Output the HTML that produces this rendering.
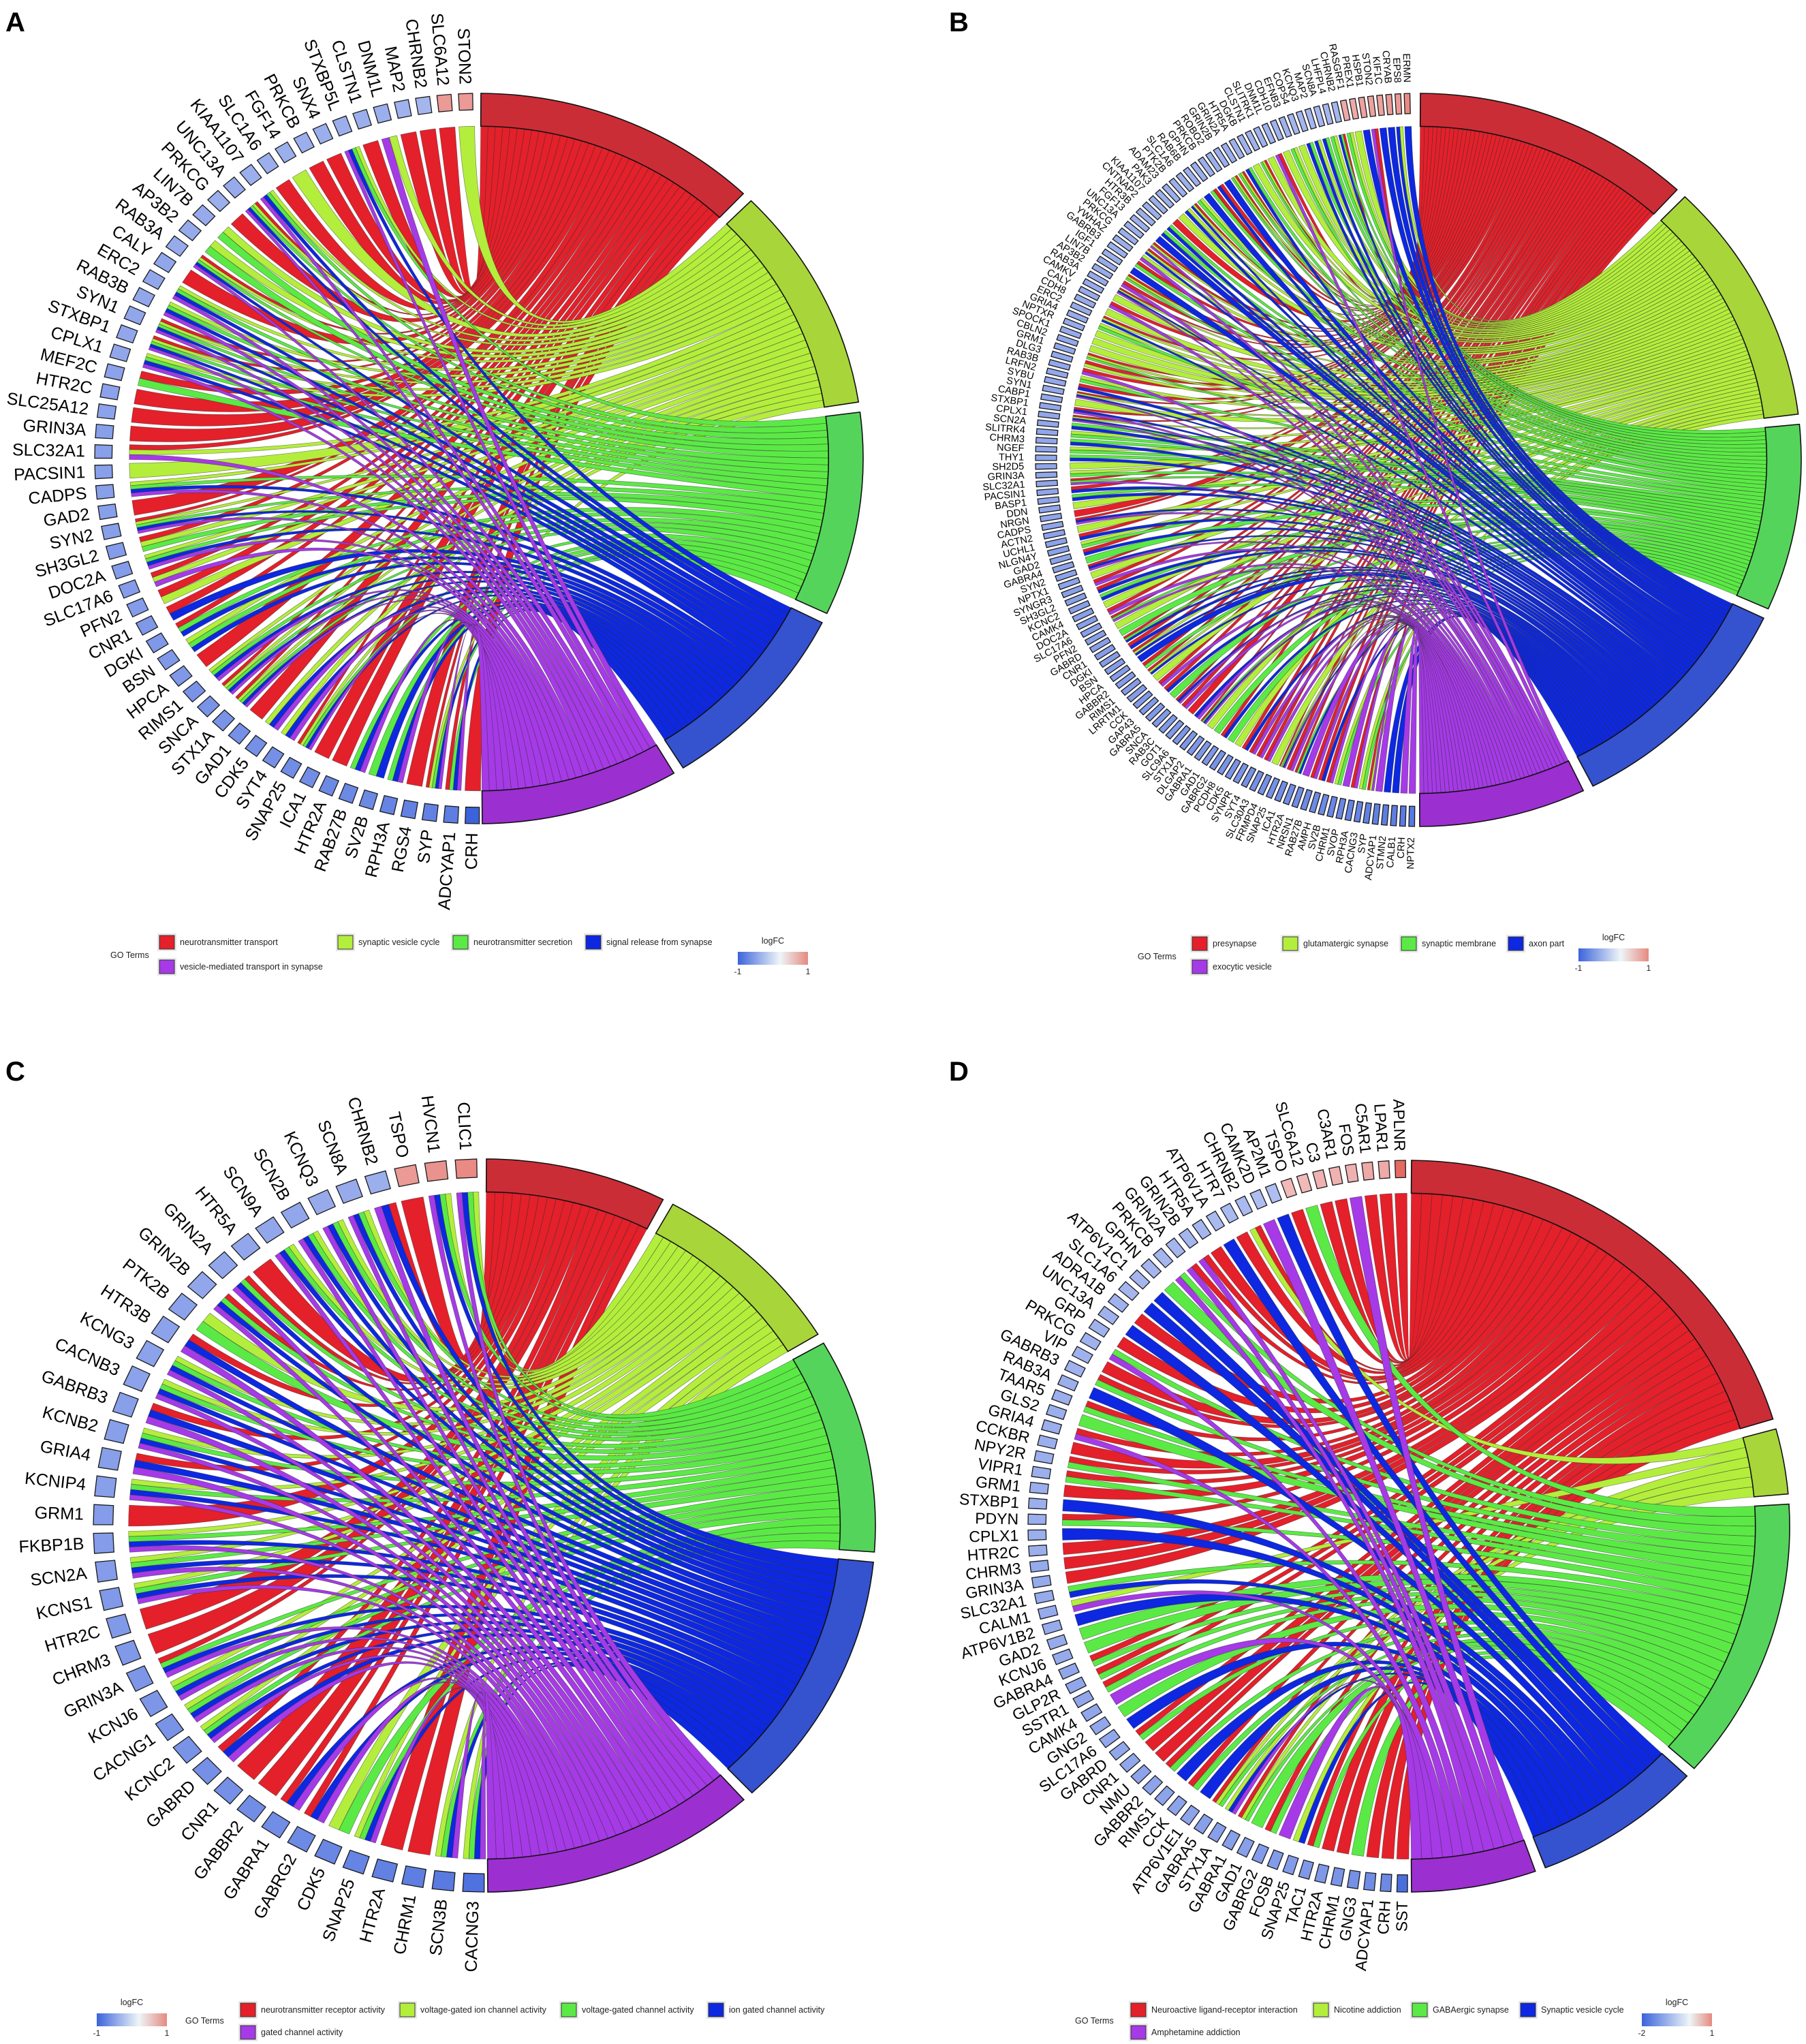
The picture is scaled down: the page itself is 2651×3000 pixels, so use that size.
<!DOCTYPE html>
<html><head><meta charset="utf-8"><style>
html,body{margin:0;padding:0;background:#fff;width:2651px;height:3000px;overflow:hidden}
svg{position:absolute;left:0;top:0;font-family:"Liberation Sans",Arial,sans-serif}
</style></head><body>
<svg id="fig" width="2651" height="3000" viewBox="0 0 2651 3000" xmlns="http://www.w3.org/2000/svg">
<defs>
<linearGradient id="gradA" x1="0" x2="1" y1="0" y2="0"><stop offset="0" stop-color="#3C63DB"/><stop offset="0.6" stop-color="#EEF6F8"/><stop offset="1" stop-color="#E58A80"/></linearGradient>
<linearGradient id="gradD" x1="0" x2="1" y1="0" y2="0"><stop offset="0" stop-color="#3C63DB"/><stop offset="0.68" stop-color="#EEF6F8"/><stop offset="1" stop-color="#E58A80"/></linearGradient>
</defs>
<g id="layer"></g>
</svg>
<script>
// ---------- DATA ----------
const termsA = ["neurotransmitter transport","synaptic vesicle cycle","neurotransmitter secretion","signal release from synapse","vesicle-mediated transport in synapse"];
const genesA = ["STON2","SLC6A12","CHRNB2","MAP2","DNM1L","CLSTN1","STXBP5L","SNX4","PRKCB","FGF14","SLC1A6","KIAA1107","UNC13A","PRKCG","LIN7B","AP3B2","RAB3A","CALY","ERC2","RAB3B","SYN1","STXBP1","CPLX1","MEF2C","HTR2C","SLC25A12","GRIN3A","SLC32A1","PACSIN1","CADPS","GAD2","SYN2","SH3GL2","DOC2A","SLC17A6","PFN2","CNR1","DGKI","BSN","HPCA","RIMS1","SNCA","STX1A","GAD1","CDK5","SYT4","SNAP25","ICA1","HTR2A","RAB27B","SV2B","RPH3A","RGS4","SYP","ADCYAP1","CRH"];
const memA = ["01000","10000","10000","10000","01001","10000","01111","10000","10000","01000","10000","01111","11111","10000","01100","01100","11111","10000","01111","01111","11111","11111","01111","10100","10000","10000","10000","11001","01000","01111","10000","11111","11100","01111","11001","11000","10010","10110","01110","10000","01111","11111","11111","10000","01011","01011","11111","10000","10000","00111","00110","00111","10000","11111","10111","10000"];
const fcA = [0.6,0.6,-0.45,-0.48,-0.5,-0.5,-0.5,-0.5,-0.5,-0.5,-0.5,-0.5,-0.52,-0.5,-0.52,-0.52,-0.52,-0.55,-0.55,-0.55,-0.55,-0.55,-0.55,-0.58,-0.58,-0.58,-0.6,-0.6,-0.6,-0.6,-0.6,-0.6,-0.62,-0.62,-0.62,-0.62,-0.65,-0.65,-0.65,-0.65,-0.68,-0.68,-0.68,-0.7,-0.7,-0.7,-0.72,-0.72,-0.75,-0.75,-0.75,-0.78,-0.8,-0.8,-0.82,-1.0];

const termsB = ["presynapse","glutamatergic synapse","synaptic membrane","axon part","exocytic vesicle"];
const genesB = ["ERMN","EPS8","CRYAB","KIF1C","STON2","HSPB1","PREX1","RASGRF1","CHRNB2","LHFPL4","SCN8A","MAP2","KCNQ3","COPS4","EFNB3","CDH10","DNM1L","SLITRK1","CLSTN1","DGKB","HTR5A","GRIN2A","GRIN2B","ROBO2","PRKCB","GPHN","RAB6B","SLC1A6","PTK2B","ADAM23","PAK3","KIAA1107","CNTNAP2","HTR3B","FGF13","UNC13A","PRKCG","YWHAZ","GABRB3","IGF1","LIN7B","AP3B2","RAB3A","CAMKV","CALY","CDH8","ERC2","GRIA4","NPTXR","SPOCK1","CBLN2","GRM1","DLG3","RAB3B","LRFN2","SYBU","SYN1","CABP1","STXBP1","CPLX1","SCN2A","SLITRK4","CHRM3","NGEF","THY1","SH2D5","GRIN3A","SLC32A1","PACSIN1","BASP1","DDN","NRGN","CADPS","ACTN2","UCHL1","NLGN4Y","GAD2","GABRA4","SYN2","NPTX1","SYNGR3","SH3GL2","KCNC2","CAMK4","DOC2A","SLC17A6","PFN2","GABRD","CNR1","DGKI","BSN","HPCA","GABBR2","RIMS1","LRRTM1","CCK","GAP43","GABRA5","SNCA","RAB3C","GOT1","SLC9A6","STX1A","DLGAP2","GABRA1","GAD1","GABRG2","PCDH8","CDK5","SYNPR","SYT4","SLC30A3","FRMPD4","SNAP25","ICA1","HTR2A","NRSN1","RAB27B","AMPH","SV2B","CHRM1","SVOP","RPH3A","CACNG3","SYP","ADCYAP1","STMN2","CALB1","CRH","NPTX2"];
const memB = ["00010","01010","00010","00010","10001","00010","01000","01100","10110","01100","00110","01010","00110","01000","01100","01000","10001","01000","11100","01000","00110","11100","11100","00010","10010","10100","00010","01100","11010","01010","01000","10000","00110","00110","00010","11001","11010","01001","10100","00010","11100","10001","11011","01000","10001","01000","11010","01100","01000","01000","01000","11100","11000","10001","01100","10010","11011","01000","10011","11011","00110","01100","00110","01100","00110","01000","01100","10101","10010","00110","01000","10000","10011","01000","10010","01100","10010","00100","10011","01000","10001","10010","00110","01000","10001","10101","01000","00100","10110","10010","11010","00010","10100","11010","01000","10001","10010","00100","10011","10001","10000","00011","10111","01000","00100","10010","00100","01000","10010","10001","10001","10001","01000","11111","10001","10110","00001","10001","10010","10001","01100","00001","10001","01100","11001","00001","00010","00010","00001","00001"];
const fcB = [0.7,0.6,0.6,0.55,0.55,0.55,0.5,0.5,-0.45,-0.45,-0.45,-0.45,-0.45,-0.45,-0.48,-0.48,-0.48,-0.48,-0.48,-0.48,-0.48,-0.5,-0.5,-0.5,-0.5,-0.5,-0.5,-0.5,-0.5,-0.5,-0.5,-0.5,-0.5,-0.5,-0.5,-0.5,-0.5,-0.5,-0.5,-0.5,-0.52,-0.52,-0.52,-0.52,-0.52,-0.52,-0.52,-0.52,-0.52,-0.52,-0.54,-0.54,-0.54,-0.54,-0.54,-0.54,-0.54,-0.54,-0.55,-0.55,-0.55,-0.55,-0.55,-0.55,-0.55,-0.55,-0.55,-0.56,-0.56,-0.56,-0.56,-0.56,-0.56,-0.58,-0.58,-0.58,-0.58,-0.58,-0.58,-0.58,-0.6,-0.6,-0.6,-0.6,-0.6,-0.6,-0.6,-0.6,-0.62,-0.62,-0.62,-0.62,-0.62,-0.62,-0.62,-0.64,-0.64,-0.64,-0.64,-0.64,-0.64,-0.66,-0.66,-0.66,-0.66,-0.66,-0.68,-0.68,-0.68,-0.68,-0.7,-0.7,-0.7,-0.7,-0.72,-0.72,-0.72,-0.74,-0.74,-0.74,-0.76,-0.76,-0.78,-0.78,-0.8,-0.8,-0.82,-0.82,-0.84,-0.86,-0.88,-0.9,-0.92];

const termsC = ["neurotransmitter receptor activity","voltage-gated ion channel activity","voltage-gated channel activity","ion gated channel activity","gated channel activity"];
const genesC = ["CLIC1","HVCN1","TSPO","CHRNB2","SCN8A","KCNQ3","SCN2B","SCN9A","HTR5A","GRIN2A","GRIN2B","PTK2B","HTR3B","KCNG3","CACNB3","GABRB3","KCNB2","GRIA4","KCNIP4","GRM1","FKBP1B","SCN2A","KCNS1","HTR2C","CHRM3","GRIN3A","KCNJ6","CACNG1","KCNC2","GABRD","CNR1","GABBR2","GABRA1","GABRG2","CDK5","SNAP25","HTR2A","CHRM1","SCN3B","CACNG3"];
const memC = ["01111","01111","10000","10011","01111","01111","01111","01111","10000","10111","10111","01100","10011","01111","01111","10011","01111","10011","01111","10000","01111","01111","01111","10000","10000","10111","01111","01111","01111","10011","10000","10000","10011","10011","01100","01111","10000","10000","01111","01111"];
const fcC = [0.7,0.65,0.6,-0.5,-0.52,-0.52,-0.55,-0.55,-0.55,-0.55,-0.55,-0.58,-0.58,-0.58,-0.58,-0.6,-0.6,-0.6,-0.6,-0.62,-0.62,-0.62,-0.64,-0.64,-0.64,-0.66,-0.66,-0.68,-0.68,-0.7,-0.7,-0.72,-0.72,-0.74,-0.76,-0.78,-0.8,-0.82,-0.85,-0.9];

const termsD = ["Neuroactive ligand-receptor interaction","Nicotine addiction","GABAergic synapse","Synaptic vesicle cycle","Amphetamine addiction"];
const genesD = ["APLNR","LPAR1","C5AR1","FOS","C3AR1","C3","SLC6A12","TSPO","AP2M1","CAMK2D","CHRNB2","HTR7","ATP6V1A","HTR5A","GRIN2B","GRIN2A","PRKCB","GPHN","ATP6V1C1","SLC1A6","ADRA1B","UNC13A","GRP","PRKCG","VIP","GABRB3","RAB3A","TAAR5","GLS2","GRIA4","CCKBR","NPY2R","VIPR1","GRM1","STXBP1","PDYN","CPLX1","HTR2C","CHRM3","GRIN3A","SLC32A1","CALM1","ATP6V1B2","GAD2","KCNJ6","GABRA4","GLP2R","SSTR1","CAMK4","GNG2","SLC17A6","GABRD","CNR1","NMU","GABBR2","RIMS1","CCK","ATP6V1E1","GABRA5","STX1A","GABRA1","GAD1","GABRG2","FOSB","SNAP25","TAC1","HTR2A","CHRM1","GNG3","ADCYAP1","CRH","SST"];
const memD = ["10000","10000","10000","00001","10000","10000","00100","10000","00010","00001","11000","10000","00010","10000","10001","10001","00101","00100","00010","00010","10000","00010","10000","00101","10000","10100","00010","10100","00100","10001","10000","10100","10100","10000","00010","10100","00010","10000","10000","10000","00110","01001","00010","00100","00100","10100","10100","10100","00001","00100","00010","10100","10000","10000","10100","00010","10100","00010","11100","01011","11100","00100","10100","00001","01010","10100","10000","10000","00100","10000","10000","10000"];
const fcD = [0.9,0.5,0.5,0.45,0.45,0.45,0.4,0.4,-0.8,-0.8,-0.85,-0.85,-0.85,-0.9,-0.9,-0.9,-0.9,-0.9,-0.9,-0.9,-0.95,-0.95,-0.95,-0.95,-0.95,-0.95,-1.0,-1.0,-1.0,-1.0,-1.0,-1.0,-1.0,-1.0,-1.0,-1.0,-1.0,-1.0,-1.05,-1.05,-1.05,-1.05,-1.05,-1.05,-1.05,-1.1,-1.1,-1.1,-1.1,-1.1,-1.1,-1.1,-1.1,-1.15,-1.15,-1.15,-1.15,-1.15,-1.2,-1.2,-1.2,-1.2,-1.25,-1.25,-1.25,-1.3,-1.3,-1.35,-1.4,-1.45,-1.5,-1.85];

// ---------- STYLE / LAYOUT ----------
const ribbonCol = ["#E4202A","#B4EE3C","#5BEA45","#0D28E0","#A53AE6"];
const bandCol = ["#CB2D37","#A8D53A","#55D45C","#3552CF","#9C2FD0"];
const NS = "http://www.w3.org/2000/svg";
const layer = document.getElementById("layer");

function mk(tag, attrs, parent){
  const e = document.createElementNS(NS, tag);
  for (const k in attrs) e.setAttribute(k, attrs[k]);
  (parent||layer).appendChild(e);
  return e;
}
function pt(p,a,r){const t=a*Math.PI/180;return [p.cx+r*p.rx*Math.sin(t), p.cy-r*p.ry*Math.cos(t)];}
function f(v){return v.toFixed(2);}
function arcTo(p,a,r,sw){const q=pt(p,a,r);return "A"+f(r*p.rx)+" "+f(r*p.ry)+" 0 0 "+sw+" "+f(q[0])+" "+f(q[1]);}
function fcColor(v,min,max){
  if(v<0){const t=Math.min(1,v/min);return "rgb("+Math.round(250-190*t)+","+Math.round(250-151*t)+","+Math.round(255-36*t)+")";}
  const t=Math.min(1,v/max);return "rgb("+Math.round(250-25*t)+","+Math.round(250-160*t)+","+Math.round(255-175*t)+")";
}

function drawChord(p, genes, mem, fc){
  const g = mk("g",{});
  
  
  const nT = 5, R0 = 0.91;
  const counts = [0,0,0,0,0];
  mem.forEach(m=>{for(let k=0;k<nT;k++) if(m[k]==="1") counts[k]++;});
  const total = counts.reduce((a,b)=>a+b,0);
  const gap = 1.6, avail = (p.tEnd-p.tStart) - gap*(nT-1);
  const tA = []; let a = p.tStart;
  for(let k=0;k<nT;k++){const sp = counts[k]/total*avail; tA.push([a,a+sp]); a += sp+gap;}
  const n = genes.length, step = (p.gStart-p.gEnd)/(n-1);
  const ga = i => p.gStart - i*step;
  // gene-side ribbon ranges
  const gRange = genes.map((_,i)=>{
    const m = mem[i]||"00000"; const ks=[]; for(let k=0;k<nT;k++) if(m[k]==="1") ks.push(k);
    const gw = 0.8*step, hi = ga(i)+gw/2, sub = gw/Math.max(1,ks.length);
    const res = {}; ks.forEach((k,q)=>{res[k]=[hi-(q+1)*sub, hi-q*sub];}); return res;
  });
  // ribbons
  const rg = mk("g",{},g);
  
  
  for(let k=0;k<nT;k++){
    const w = (tA[k][1]-tA[k][0])/Math.max(1,counts[k]); let j=0;
    for(let i=0;i<n;i++){
      const m = mem[i]||"00000"; if(m[k]!=="1") continue;
      const t0 = tA[k][0]+j*w, t1 = t0+w; j++;
      const [g0,g1] = gRange[i][k];
      const T0 = pt(p,t0,R0), G0 = pt(p,g0,R0);
      const d = "M"+f(T0[0])+" "+f(T0[1])+arcTo(p,t1,R0,1)+"Q"+p.cx+" "+p.cy+" "+f(G0[0])+" "+f(G0[1])+arcTo(p,g1,R0,1)+"Q"+p.cx+" "+p.cy+" "+f(T0[0])+" "+f(T0[1])+"Z";
      const r = mk("path",{d:d,fill:ribbonCol[k],stroke:"#2a2a2a","stroke-width":"0.7","stroke-opacity":"0.55"},rg);
      
      
    }
  }
  // term bands
  for(let k=0;k<nT;k++){
    const [a0,a1]=tA[k]; const P0=pt(p,a0,1), P1=pt(p,a1,R0);
    const d="M"+f(P0[0])+" "+f(P0[1])+arcTo(p,a1,1,1)+"L"+f(P1[0])+" "+f(P1[1])+arcTo(p,a0,R0,0)+"Z";
    const b = mk("path",{d:d,fill:bandCol[k],stroke:"#111","stroke-width":"1.6"},g);
    
    
  }
  // gene boxes + labels
  for(let i=0;i<n;i++){
    const c = ga(i), bw = p.boxFrac*step/2;
    const q = [pt(p,c-bw,p.boxIn),pt(p,c+bw,p.boxIn),pt(p,c+bw,1),pt(p,c-bw,1)];
    const v = fc[i]!==undefined?fc[i]:-0.6;
    const bx = mk("polygon",{points:q.map(z=>f(z[0])+","+f(z[1])).join(" "),fill:fcColor(v,p.fcMin,p.fcMax),stroke:"#1a1a1a","stroke-width":"1.3"},g);
    
    
    const L = pt(p,c,p.labR); const t=c*Math.PI/180;
    const rot = Math.atan2(Math.cos(t),-Math.sin(t))*180/Math.PI;
    const tx = mk("text",{x:f(L[0]),y:f(L[1]),"text-anchor":"end","dominant-baseline":"central","font-size":p.fs,fill:"#000",transform:"rotate("+f(rot)+" "+f(L[0])+" "+f(L[1])+")"},g);
    tx.textContent = genes[i];
    
    
  }
}

function drawLegend(L, terms, grad, lo, hi){
  const g = mk("g",{});
  
  
  const t = mk("text",{x:L.goX,y:L.goY,"font-size":"12.5","dominant-baseline":"central",fill:"#222"},g);
  t.textContent = "GO Terms";
  
  
  for(let k=0;k<5;k++){
    const x = L.sx[k], y = k<4?L.y1:L.y2;
    mk("rect",{x:x-3,y:y-13,width:28,height:26,fill:"#e8e8e8"},g);
    const s = mk("rect",{x:x,y:y-10,width:22,height:20,fill:ribbonCol[k],stroke:"#333","stroke-width":"1"},g);
    
    
    const lt = mk("text",{x:x+30,y:y,"font-size":"12.5","dominant-baseline":"central",fill:"#222"},g);
    lt.textContent = terms[k];
    
    
  }
  const gr = mk("rect",{x:L.gx,y:L.gy,width:L.gw,height:19,fill:"url(#"+grad+")"},g);
  
  
  const lf = mk("text",{x:L.gx+L.gw/2,y:L.gy-12,"font-size":"12.5","text-anchor":"middle",fill:"#222"},g);
  lf.textContent = "logFC";
  
  
  const a = mk("text",{x:L.gx,y:L.gy+33,"font-size":"12","text-anchor":"middle",fill:"#222"},g);
  a.textContent = lo;
  
  
  const b = mk("text",{x:L.gx+L.gw,y:L.gy+33,"font-size":"12","text-anchor":"middle",fill:"#222"},g);
  b.textContent = hi;
  
  
}

function letter(x,y,s){
  const t = mk("text",{x:x,y:y,"font-size":"40","font-weight":"bold",fill:"#000"});
  t.textContent = s;
  
  
}

const PA = {name:"panel-a-chord",cx:703,cy:673,rx:564,ry:536,tStart:0.3,tEnd:179.5,gStart:358,gEnd:181,boxIn:0.955,boxFrac:0.66,labR:1.025,fs:25,fcMin:-1,fcMax:1};
const PB = {name:"panel-b-chord",cx:2082,cy:675,rx:562,ry:538,tStart:0.3,tEnd:179.8,gStart:358.3,gEnd:181,boxIn:0.945,boxFrac:0.63,labR:1.03,fs:14.5,fcMin:-1,fcMax:1};
const PC = {name:"panel-c-chord",cx:711,cy:2239,rx:574,ry:538,tStart:0.3,tEnd:179.5,gStart:357.3,gEnd:181.6,boxIn:0.95,boxFrac:0.7,labR:1.025,fs:25,fcMin:-1,fcMax:1};
const PD = {name:"panel-d-chord",cx:2068,cy:2240,rx:559,ry:537,tStart:0.4,tEnd:179.6,gStart:358.7,gEnd:181,boxIn:0.953,boxFrac:0.64,labR:1.025,fs:23,fcMin:-2,fcMax:1};

drawChord(PA, genesA, memA, fcA);
drawChord(PB, genesB, memB, fcB);
drawChord(PC, genesC, memC, fcC);
drawChord(PD, genesD, memD, fcD);

drawLegend({name:"legend-a",goX:162,goY:1402,sx:[234,496,665,860,234],y1:1383,y2:1419,gx:1083,gy:1397,gw:103}, termsA, "gradA","-1","1");
drawLegend({name:"legend-b",goX:1670,goY:1404,sx:[1750,1883,2057,2214,1750],y1:1385,y2:1419,gx:2317,gy:1392,gw:103}, termsB, "gradA","-1","1");
drawLegend({name:"legend-c",goX:272,goY:2966,sx:[353,587,824,1040,353],y1:2950,y2:2983,gx:142,gy:2955,gw:103}, termsC, "gradA","-1","1");
drawLegend({name:"legend-d",goX:1578,goY:2966,sx:[1660,1928,2073,2232,1660],y1:2950,y2:2983,gx:2410,gy:2955,gw:103}, termsD, "gradD","-2","1");

letter(8,46,"A"); letter(1393,46,"B"); letter(8,1586,"C"); letter(1393,1586,"D");
</script>
</body></html>
